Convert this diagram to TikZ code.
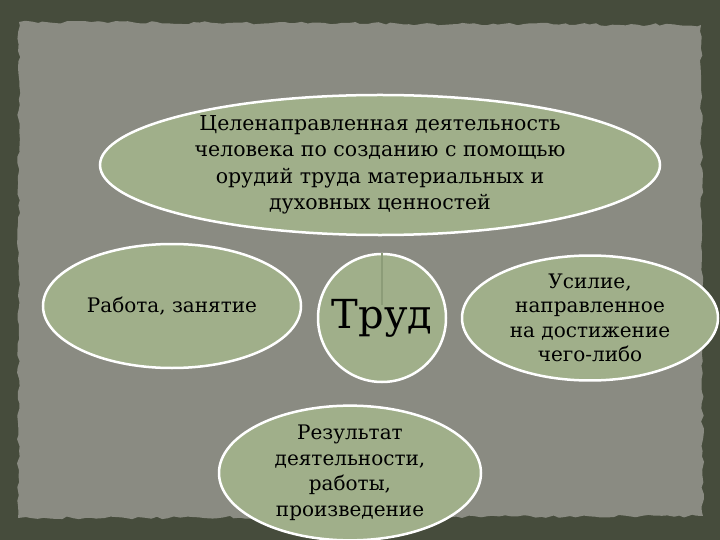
\documentclass[tikz,border=0pt]{standalone}
\usepackage{fontspec}
\setmainfont{DejaVu Serif}
\usetikzlibrary{shapes.geometric,decorations.pathmorphing}
\definecolor{frame}{HTML}{464C3C}
\definecolor{paper}{HTML}{8A8B82}
\definecolor{leaf}{HTML}{A0AF8A}
\definecolor{stem}{HTML}{8C9C78}
\tikzset{
  blob/.style={ellipse, draw=white, line width=2.5pt, fill=leaf, inner sep=0pt, align=center, font=\fontsize{20}{26}\selectfont},
}
\begin{document}
\begin{tikzpicture}[x=1pt,y=-1pt]
\useasboundingbox (0,0) rectangle (720,540);
\fill[frame] (0,0) rectangle (720,540);
\fill[paper, decorate, decoration={random steps,segment length=6pt,amplitude=1.5pt}] (19,22) -- (701,25) -- (703,516) -- (18,518) -- cycle;
\node[blob, minimum width=560, minimum height=120, font=\fontsize{20.5}{26.5}\selectfont] (goal) at (380,165)
  {Целенаправленная деятельность\\человека по созданию с помощью\\орудий труда материальных и\\духовных ценностей};
\node[blob, minimum width=258, minimum height=124] (work) at (172,306) {Работа, занятие};
\node[blob, circle, minimum size=128] (trud) at (382,318) {\fontsize{40}{44}\selectfont Труд};
\node[blob, minimum width=256, minimum height=120, font=\fontsize{20}{24.5}\selectfont] (effort) at (590,318)
  {Усилие,\\направленное\\на достижение\\чего-либо};
\node[blob, minimum width=262, minimum height=122, font=\fontsize{20}{25.5}\selectfont] (result) at (350,473)
  {Результат\\деятельности,\\работы,\\произведение};
\coordinate (stemend) at (382,305);
\draw[stem, line width=2.5pt] (trud.north) -- (stemend);
\end{tikzpicture}
\end{document}
